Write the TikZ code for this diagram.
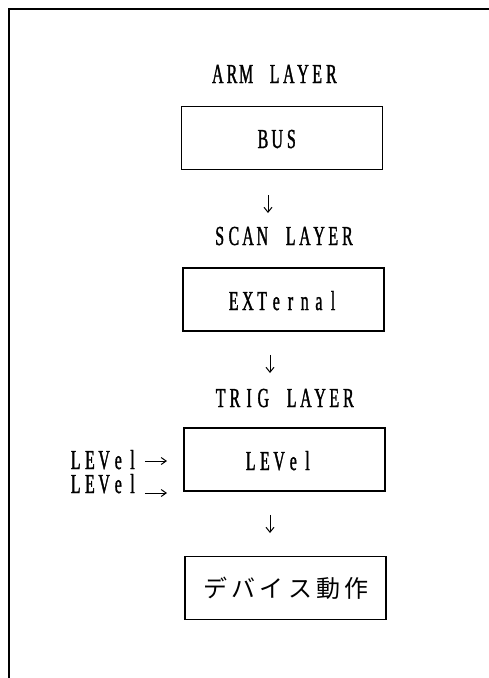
\documentclass[tikz,border=0pt]{standalone}
\usepackage{fontspec}
\setmainfont{Liberation Serif}
\newfontfamily\hwfont[FakeStretch=0.58,FakeBold=1.2]{Liberation Serif}
\newfontfamily\jpfont{Noto Sans CJK JP}
\usetikzlibrary{arrows.meta}
\makeatletter
\newcommand\hwtext[1]{{\hwfont\fontsize{27.5pt}{30pt}\selectfont\@tfor\hwc:=#1\do{\makebox[14.2pt]{\hwc}}}}
\newcommand\jptext[1]{{\jpfont\fontsize{24pt}{28pt}\selectfont\@tfor\jpc:=#1\do{\makebox[28.4pt]{\jpc}}}}
\makeatother
\begin{document}
\begin{tikzpicture}[x=1pt,y=-1pt,
  frameline/.style={line width=1.4pt},
  layerbox/.style={draw, line width=1.9pt, minimum width=201pt, minimum height=63pt, inner sep=0pt},
  txt/.style={inner sep=0pt, anchor=base west},
  varr/.style={line width=1pt, -{Straight Barb[length=5pt,width=8pt]}},
  harr/.style={line width=1pt, -{Straight Barb[length=5pt,width=7pt]}}]
\useasboundingbox (0,0) rectangle (489,678);
\fill[white] (0,0) rectangle (489,678);
% frame
\coordinate (ftl) at (9,9);
\coordinate (ftr) at (489,9);
\coordinate (fbl) at (9,678);
\draw[frameline] (ftr) -- (ftl) -- (fbl);
% layers
\node[txt] (arm) at (210.5,83) {\hwtext{ARM~LAYER}};
\node[layerbox] (bus) at (282,138) {};
\node[txt] (bust) at (255.7,148) {\hwtext{BUS}};
\node[txt] (scan) at (212.4,245) {\hwtext{SCAN~LAYER}};
\node[layerbox] (ext) at (283.5,299.5) {};
\node[txt] (extt) at (226.4,310) {\hwtext{EXTernal}};
\node[txt] (trig) at (213.4,407) {\hwtext{TRIG~LAYER}};
\node[layerbox] (lev) at (284.5,459.5) {};
\node[txt] (levt) at (243.4,470) {\hwtext{LEVel}};
\node[txt] (lab1) at (68.4,469) {\hwtext{LEVel}};
\node[txt] (lab2) at (68.4,493) {\hwtext{LEVel}};
\node[layerbox] (dev) at (285.5,588) {};
\node[inner sep=0pt] (devt) at (286,588.5) {\jptext{デバイス動作}};
% arrows
\coordinate (a1e) at (268,213);
\coordinate (a2e) at (270,373);
\coordinate (a3e) at (270,533);
\draw[varr, shorten <=25pt] (bus.south -| a1e) -- (a1e);
\draw[varr, shorten <=23pt] (ext.south -| a2e) -- (a2e);
\draw[varr, shorten <=23pt] (lev.south -| a3e) -- (a3e);
\coordinate (h1e) at (167,461);
\coordinate (h2e) at (167,493);
\draw[harr, shorten <=5pt] (lab1.east |- h1e) -- (h1e);
\draw[harr, shorten <=5pt] (lab2.base east) -- (h2e);
\end{tikzpicture}
\end{document}
